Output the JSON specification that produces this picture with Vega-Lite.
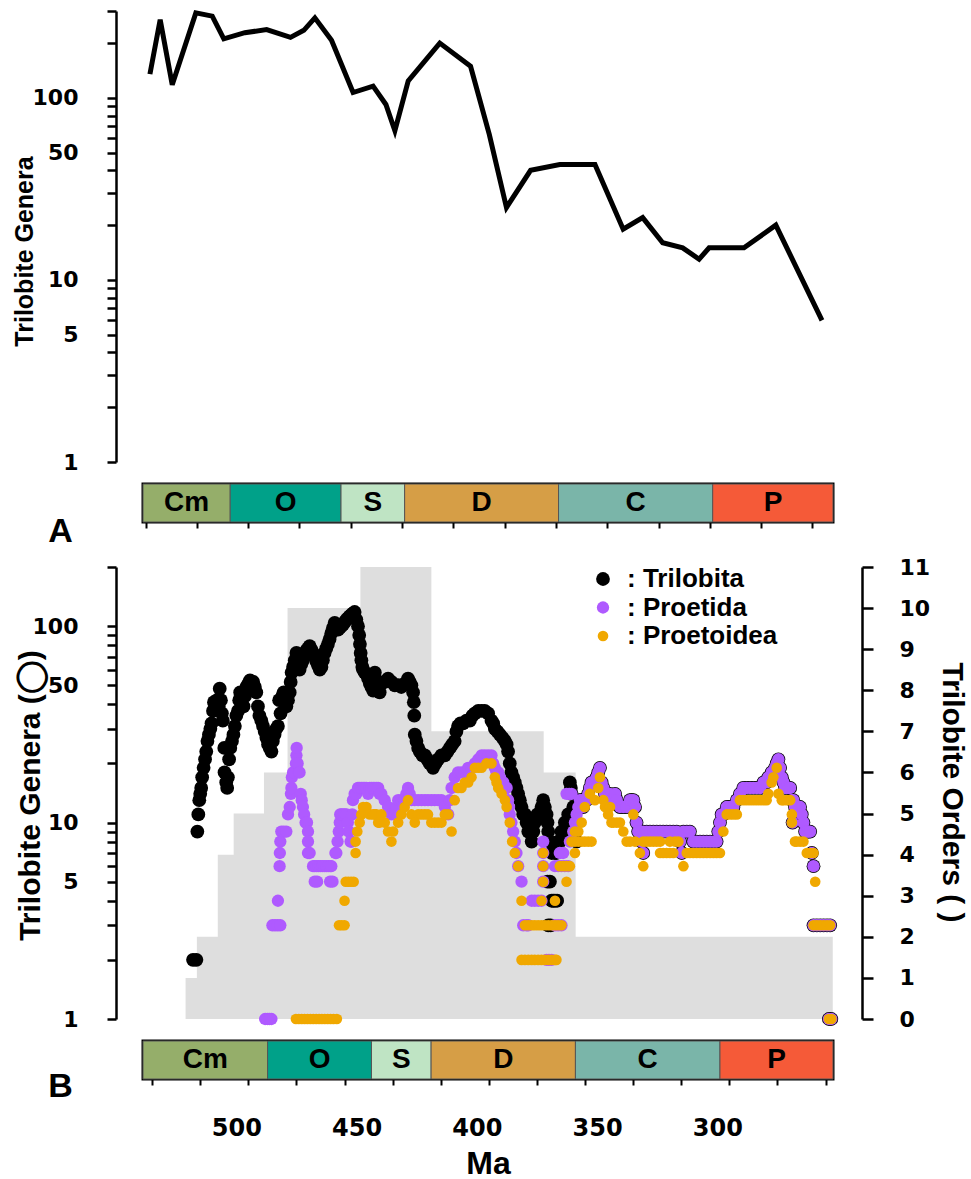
{
 "$schema": "https://vega.github.io/schema/vega-lite/v6.json",
 "padding": {"left": 12, "top": 0, "right": 2, "bottom": 0},
 "config": {"view": {"stroke": null}, "axis": {"grid": false, "domainColor": "black", "tickColor": "black", "labelColor": "black", "titleColor": "black"}},
 "spacing": 6,
 "bounds": "full",
 "resolve": {"scale": {"color": "independent", "size": "independent"}},
 "datasets": {
  "lineA": [
   {"t":518.3,"n":135},{"t":514.3,"n":269},{"t":509.6,"n":118},{"t":500.4,"n":293},{"t":494.0,"n":281},{"t":489.5,"n":211},{"t":481.3,"n":228},{"t":472.8,"n":237},{"t":463.5,"n":215},{"t":458.3,"n":235},{"t":454.0,"n":275},{"t":447.5,"n":207},{"t":439.1,"n":107},{"t":431.3,"n":116},{"t":426.3,"n":92},{"t":422.8,"n":66},{"t":417.6,"n":124},{"t":405.3,"n":200},{"t":393.3,"n":149},{"t":386.0,"n":63},{"t":379.3,"n":25},{"t":369.9,"n":40},{"t":358.5,"n":43},{"t":344.8,"n":43},{"t":333.8,"n":19},{"t":326.2,"n":22},{"t":318.4,"n":16},{"t":310.6,"n":15},{"t":304.2,"n":13},{"t":300.3,"n":15},{"t":286.7,"n":15},{"t":274.3,"n":20},{"t":256.3,"n":6}
  ],
  "periods": [
   {"p":"Cm","s":538.8,"e":487.0},{"p":"O","s":487.0,"e":443.8},{"p":"S","s":443.8,"e":419.0},{"p":"D","s":419.0,"e":359.0},{"p":"C","s":359.0,"e":298.9},{"p":"P","s":298.9,"e":251.9}
  ],
  "orders": [
   {"t":252.0,"o":1},{"t":358.9,"o":2},{"t":372.2,"o":6},{"t":418.9,"o":7},{"t":448.4,"o":11},{"t":478.7,"o":10},{"t":488.5,"o":6},{"t":501.1,"o":5},{"t":507.7,"o":4},{"t":516.4,"o":2},{"t":517.8,"o":1},{"t":521.1,"o":1}
  ],
  "genera": [
   {"g":"Trilobita","t":518.0,"n":2},{"g":"Trilobita","t":516.6,"n":2},
   {"g":"Trilobita","t":516.2,"n":9},{"g":"Trilobita","t":515.8,"n":11},{"g":"Trilobita","t":515.4,"n":13},{"g":"Trilobita","t":515.0,"n":14},{"g":"Trilobita","t":514.6,"n":15},{"g":"Trilobita","t":514.2,"n":17},{"g":"Trilobita","t":513.6,"n":19},{"g":"Trilobita","t":513.0,"n":21},{"g":"Trilobita","t":512.5,"n":23},{"g":"Trilobita","t":512.0,"n":26},{"g":"Trilobita","t":511.4,"n":28},{"g":"Trilobita","t":510.8,"n":30},{"g":"Trilobita","t":510.3,"n":32},{"g":"Trilobita","t":509.7,"n":37},{"g":"Trilobita","t":509.3,"n":41},{"g":"Trilobita","t":508.7,"n":40},{"g":"Trilobita","t":508.0,"n":42},{"g":"Trilobita","t":507.3,"n":39},{"g":"Trilobita","t":506.9,"n":48},{"g":"Trilobita","t":506.4,"n":42},{"g":"Trilobita","t":506.0,"n":36},{"g":"Trilobita","t":505.6,"n":33},{"g":"Trilobita","t":505.0,"n":24},{"g":"Trilobita","t":504.9,"n":18},{"g":"Trilobita","t":504.2,"n":16},{"g":"Trilobita","t":503.8,"n":15},{"g":"Trilobita","t":503.5,"n":17},{"g":"Trilobita","t":503.0,"n":21},{"g":"Trilobita","t":502.5,"n":24},{"g":"Trilobita","t":501.8,"n":26},{"g":"Trilobita","t":501.2,"n":28},{"g":"Trilobita","t":500.6,"n":31},{"g":"Trilobita","t":500.0,"n":35},{"g":"Trilobita","t":499.3,"n":37},{"g":"Trilobita","t":498.8,"n":42},{"g":"Trilobita","t":498.4,"n":46},{"g":"Trilobita","t":497.6,"n":43},{"g":"Trilobita","t":497.0,"n":39},{"g":"Trilobita","t":496.4,"n":44},{"g":"Trilobita","t":495.8,"n":49},{"g":"Trilobita","t":495.0,"n":51},{"g":"Trilobita","t":494.3,"n":53},{"g":"Trilobita","t":493.6,"n":51},{"g":"Trilobita","t":493.0,"n":52},{"g":"Trilobita","t":492.3,"n":49},{"g":"Trilobita","t":491.7,"n":46},{"g":"Trilobita","t":491.0,"n":39},{"g":"Trilobita","t":490.4,"n":35},{"g":"Trilobita","t":489.6,"n":33},{"g":"Trilobita","t":488.9,"n":31},{"g":"Trilobita","t":488.2,"n":29},{"g":"Trilobita","t":487.5,"n":27},{"g":"Trilobita","t":486.8,"n":25},{"g":"Trilobita","t":486.1,"n":24},{"g":"Trilobita","t":485.4,"n":23},{"g":"Trilobita","t":484.8,"n":26},{"g":"Trilobita","t":484.1,"n":28},{"g":"Trilobita","t":483.4,"n":30},{"g":"Trilobita","t":482.7,"n":31},{"g":"Trilobita","t":482.2,"n":42},{"g":"Trilobita","t":481.6,"n":36},{"g":"Trilobita","t":480.9,"n":44},{"g":"Trilobita","t":480.3,"n":46},{"g":"Trilobita","t":479.6,"n":40},{"g":"Trilobita","t":479.2,"n":39},{"g":"Trilobita","t":478.5,"n":42},{"g":"Trilobita","t":477.8,"n":46},{"g":"Trilobita","t":477.4,"n":52},{"g":"Trilobita","t":477.0,"n":58},{"g":"Trilobita","t":476.4,"n":62},{"g":"Trilobita","t":475.7,"n":67},{"g":"Trilobita","t":475.0,"n":73},{"g":"Trilobita","t":474.4,"n":68},{"g":"Trilobita","t":473.7,"n":60},{"g":"Trilobita","t":473.0,"n":64},{"g":"Trilobita","t":472.3,"n":67},{"g":"Trilobita","t":471.6,"n":71},{"g":"Trilobita","t":470.9,"n":75},{"g":"Trilobita","t":470.2,"n":77},{"g":"Trilobita","t":469.5,"n":79},{"g":"Trilobita","t":468.8,"n":76},{"g":"Trilobita","t":468.1,"n":73},{"g":"Trilobita","t":467.4,"n":70},{"g":"Trilobita","t":466.7,"n":66},{"g":"Trilobita","t":466.0,"n":63},{"g":"Trilobita","t":465.3,"n":60},{"g":"Trilobita","t":464.6,"n":62},{"g":"Trilobita","t":464.0,"n":67},{"g":"Trilobita","t":463.3,"n":73},{"g":"Trilobita","t":462.6,"n":77},{"g":"Trilobita","t":461.9,"n":81},{"g":"Trilobita","t":461.2,"n":86},{"g":"Trilobita","t":460.5,"n":92},{"g":"Trilobita","t":459.8,"n":98},{"g":"Trilobita","t":459.1,"n":104},{"g":"Trilobita","t":458.4,"n":100},{"g":"Trilobita","t":457.7,"n":96},{"g":"Trilobita","t":457.0,"n":98},{"g":"Trilobita","t":456.3,"n":100},{"g":"Trilobita","t":455.6,"n":102},{"g":"Trilobita","t":454.9,"n":105},{"g":"Trilobita","t":454.2,"n":108},{"g":"Trilobita","t":453.5,"n":110},{"g":"Trilobita","t":452.9,"n":112},{"g":"Trilobita","t":452.2,"n":114},{"g":"Trilobita","t":451.5,"n":116},{"g":"Trilobita","t":450.8,"n":118},{"g":"Trilobita","t":450.1,"n":108},{"g":"Trilobita","t":449.4,"n":100},{"g":"Trilobita","t":448.9,"n":90},{"g":"Trilobita","t":448.6,"n":81},{"g":"Trilobita","t":448.3,"n":73},{"g":"Trilobita","t":448.0,"n":67},{"g":"Trilobita","t":447.6,"n":62},{"g":"Trilobita","t":447.3,"n":60},{"g":"Trilobita","t":446.6,"n":58},{"g":"Trilobita","t":445.9,"n":57},{"g":"Trilobita","t":445.2,"n":54},{"g":"Trilobita","t":444.5,"n":51},{"g":"Trilobita","t":443.8,"n":49},{"g":"Trilobita","t":443.1,"n":47},{"g":"Trilobita","t":442.4,"n":58},{"g":"Trilobita","t":441.7,"n":53},{"g":"Trilobita","t":441.0,"n":49},{"g":"Trilobita","t":440.4,"n":46},{"g":"Trilobita","t":439.7,"n":51},{"g":"Trilobita","t":438.3,"n":52},{"g":"Trilobita","t":436.9,"n":54},{"g":"Trilobita","t":435.5,"n":52},{"g":"Trilobita","t":434.1,"n":50},{"g":"Trilobita","t":432.7,"n":50},{"g":"Trilobita","t":431.4,"n":49},{"g":"Trilobita","t":430.0,"n":51},{"g":"Trilobita","t":428.6,"n":54},{"g":"Trilobita","t":427.9,"n":52},{"g":"Trilobita","t":427.2,"n":50},{"g":"Trilobita","t":426.5,"n":46},{"g":"Trilobita","t":426.2,"n":41},{"g":"Trilobita","t":426.0,"n":35},{"g":"Trilobita","t":425.8,"n":28},{"g":"Trilobita","t":425.1,"n":26},{"g":"Trilobita","t":424.4,"n":24},{"g":"Trilobita","t":423.7,"n":23},{"g":"Trilobita","t":422.6,"n":22},{"g":"Trilobita","t":421.6,"n":22},{"g":"Trilobita","t":420.6,"n":21},{"g":"Trilobita","t":419.6,"n":20},{"g":"Trilobita","t":418.2,"n":19},{"g":"Trilobita","t":417.2,"n":20},{"g":"Trilobita","t":416.1,"n":21},{"g":"Trilobita","t":414.7,"n":22},{"g":"Trilobita","t":413.3,"n":22},{"g":"Trilobita","t":412.2,"n":23},{"g":"Trilobita","t":411.2,"n":24},{"g":"Trilobita","t":410.2,"n":25},{"g":"Trilobita","t":409.2,"n":26},{"g":"Trilobita","t":408.5,"n":29},{"g":"Trilobita","t":407.8,"n":31},{"g":"Trilobita","t":406.8,"n":32},{"g":"Trilobita","t":405.7,"n":32},{"g":"Trilobita","t":404.3,"n":33},{"g":"Trilobita","t":402.9,"n":33},{"g":"Trilobita","t":401.8,"n":35},{"g":"Trilobita","t":400.8,"n":36},{"g":"Trilobita","t":399.4,"n":37},{"g":"Trilobita","t":398.0,"n":37},{"g":"Trilobita","t":396.7,"n":37},{"g":"Trilobita","t":395.3,"n":36},{"g":"Trilobita","t":393.9,"n":33},{"g":"Trilobita","t":393.2,"n":32},{"g":"Trilobita","t":392.5,"n":30},{"g":"Trilobita","t":391.4,"n":29},{"g":"Trilobita","t":390.4,"n":28},{"g":"Trilobita","t":389.3,"n":27},{"g":"Trilobita","t":388.3,"n":26},{"g":"Trilobita","t":387.6,"n":25},{"g":"Trilobita","t":387.0,"n":23},{"g":"Trilobita","t":386.3,"n":20},{"g":"Trilobita","t":385.6,"n":18},{"g":"Trilobita","t":384.9,"n":17},{"g":"Trilobita","t":384.2,"n":16},{"g":"Trilobita","t":383.5,"n":15},{"g":"Trilobita","t":382.8,"n":14},{"g":"Trilobita","t":382.1,"n":13},{"g":"Trilobita","t":381.4,"n":12},{"g":"Trilobita","t":380.7,"n":11},{"g":"Trilobita","t":380.0,"n":11},{"g":"Trilobita","t":379.3,"n":10},{"g":"Trilobita","t":378.6,"n":9},{"g":"Trilobita","t":377.9,"n":9},{"g":"Trilobita","t":377.2,"n":8},{"g":"Trilobita","t":376.5,"n":9},{"g":"Trilobita","t":375.9,"n":10},{"g":"Trilobita","t":374.8,"n":11},{"g":"Trilobita","t":373.8,"n":11},{"g":"Trilobita","t":373.1,"n":12},{"g":"Trilobita","t":372.4,"n":13},{"g":"Trilobita","t":371.7,"n":12},{"g":"Trilobita","t":371.0,"n":11},{"g":"Trilobita","t":370.6,"n":10},{"g":"Trilobita","t":370.3,"n":9},{"g":"Trilobita","t":369.6,"n":8},{"g":"Trilobita","t":368.9,"n":7},{"g":"Trilobita","t":370.6,"n":5},{"g":"Trilobita","t":369.6,"n":5},{"g":"Trilobita","t":368.9,"n":4},{"g":"Trilobita","t":368.2,"n":4},{"g":"Trilobita","t":367.5,"n":4},{"g":"Trilobita","t":366.6,"n":4},{"g":"Trilobita","t":370.3,"n":3},{"g":"Trilobita","t":369.3,"n":3},{"g":"Trilobita","t":367.5,"n":7},{"g":"Trilobita","t":366.9,"n":7},{"g":"Trilobita","t":366.2,"n":8},{"g":"Trilobita","t":365.5,"n":8},{"g":"Trilobita","t":364.8,"n":9},{"g":"Trilobita","t":364.1,"n":9},{"g":"Trilobita","t":363.4,"n":10},{"g":"Trilobita","t":362.7,"n":10},{"g":"Trilobita","t":362.0,"n":11},{"g":"Trilobita","t":361.3,"n":16},{"g":"Trilobita","t":360.9,"n":15},{"g":"Trilobita","t":360.6,"n":14},{"g":"Trilobita","t":359.9,"n":12},{"g":"Trilobita","t":359.2,"n":10},{"g":"Trilobita","t":358.5,"n":8},
   {"g":"Trilobita","t":357.8,"n":12},{"g":"Trilobita","t":357.1,"n":13},{"g":"Trilobita","t":356.4,"n":13},{"g":"Trilobita","t":355.8,"n":12},{"g":"Trilobita","t":355.1,"n":13},{"g":"Trilobita","t":354.4,"n":13},{"g":"Trilobita","t":353.7,"n":14},{"g":"Trilobita","t":353.0,"n":15},{"g":"Trilobita","t":352.3,"n":16},{"g":"Trilobita","t":351.6,"n":16},{"g":"Trilobita","t":350.9,"n":16},{"g":"Trilobita","t":350.2,"n":17},{"g":"Trilobita","t":349.5,"n":18},{"g":"Trilobita","t":348.8,"n":19},{"g":"Trilobita","t":348.1,"n":16},{"g":"Trilobita","t":347.4,"n":15},{"g":"Trilobita","t":346.7,"n":14},{"g":"Trilobita","t":346.0,"n":14},{"g":"Trilobita","t":345.4,"n":14},{"g":"Trilobita","t":344.7,"n":14},{"g":"Trilobita","t":344.0,"n":13},{"g":"Trilobita","t":343.2,"n":13},{"g":"Trilobita","t":342.5,"n":14},{"g":"Trilobita","t":341.8,"n":13},{"g":"Trilobita","t":340.5,"n":12},{"g":"Trilobita","t":339.1,"n":12},{"g":"Trilobita","t":337.7,"n":12},{"g":"Trilobita","t":336.3,"n":13},{"g":"Trilobita","t":335.6,"n":13},{"g":"Trilobita","t":334.9,"n":13},{"g":"Trilobita","t":334.2,"n":12},{"g":"Trilobita","t":333.6,"n":10},{"g":"Trilobita","t":332.9,"n":9},{"g":"Trilobita","t":332.2,"n":9},{"g":"Trilobita","t":331.5,"n":8},{"g":"Trilobita","t":330.8,"n":7},{"g":"Trilobita","t":330.8,"n":9},{"g":"Trilobita","t":329.4,"n":9},{"g":"Trilobita","t":328.0,"n":9},{"g":"Trilobita","t":326.6,"n":9},{"g":"Trilobita","t":325.2,"n":9},{"g":"Trilobita","t":323.8,"n":9},{"g":"Trilobita","t":322.5,"n":9},{"g":"Trilobita","t":321.1,"n":9},{"g":"Trilobita","t":319.7,"n":9},{"g":"Trilobita","t":318.3,"n":9},{"g":"Trilobita","t":316.9,"n":9},{"g":"Trilobita","t":315.5,"n":8},{"g":"Trilobita","t":314.8,"n":7},{"g":"Trilobita","t":314.1,"n":9},{"g":"Trilobita","t":312.7,"n":9},{"g":"Trilobita","t":311.4,"n":9},{"g":"Trilobita","t":310.0,"n":8},{"g":"Trilobita","t":308.6,"n":8},{"g":"Trilobita","t":307.2,"n":8},{"g":"Trilobita","t":305.8,"n":8},{"g":"Trilobita","t":304.4,"n":8},{"g":"Trilobita","t":303.0,"n":8},{"g":"Trilobita","t":301.6,"n":8},{"g":"Trilobita","t":300.3,"n":8},{"g":"Trilobita","t":299.6,"n":9},{"g":"Trilobita","t":298.9,"n":10},{"g":"Trilobita","t":298.2,"n":11},{"g":"Trilobita","t":297.5,"n":11},{"g":"Trilobita","t":296.1,"n":12},{"g":"Trilobita","t":294.7,"n":12},{"g":"Trilobita","t":293.3,"n":12},{"g":"Trilobita","t":291.9,"n":13},{"g":"Trilobita","t":290.6,"n":14},{"g":"Trilobita","t":289.2,"n":15},{"g":"Trilobita","t":287.8,"n":15},{"g":"Trilobita","t":286.4,"n":15},{"g":"Trilobita","t":285.0,"n":15},{"g":"Trilobita","t":283.6,"n":15},{"g":"Trilobita","t":282.2,"n":15},{"g":"Trilobita","t":280.8,"n":16},{"g":"Trilobita","t":279.5,"n":16},{"g":"Trilobita","t":278.8,"n":17},{"g":"Trilobita","t":278.1,"n":17},{"g":"Trilobita","t":277.4,"n":18},{"g":"Trilobita","t":276.7,"n":18},{"g":"Trilobita","t":276.0,"n":19},{"g":"Trilobita","t":275.3,"n":20},{"g":"Trilobita","t":274.6,"n":21},{"g":"Trilobita","t":273.9,"n":19},{"g":"Trilobita","t":273.2,"n":17},{"g":"Trilobita","t":272.5,"n":16},{"g":"Trilobita","t":271.8,"n":15},{"g":"Trilobita","t":271.1,"n":15},{"g":"Trilobita","t":270.4,"n":15},{"g":"Trilobita","t":269.7,"n":15},{"g":"Trilobita","t":269.0,"n":13},{"g":"Trilobita","t":268.7,"n":10},{"g":"Trilobita","t":268.4,"n":13},{"g":"Trilobita","t":267.7,"n":12},{"g":"Trilobita","t":267.0,"n":12},{"g":"Trilobita","t":266.3,"n":12},{"g":"Trilobita","t":265.6,"n":12},{"g":"Trilobita","t":264.9,"n":11},{"g":"Trilobita","t":264.2,"n":10},{"g":"Trilobita","t":263.5,"n":9},{"g":"Trilobita","t":262.8,"n":9},{"g":"Trilobita","t":262.1,"n":9},{"g":"Trilobita","t":261.4,"n":9},{"g":"Trilobita","t":260.7,"n":7},{"g":"Trilobita","t":260.0,"n":6},{"g":"Trilobita","t":260.0,"n":3},{"g":"Trilobita","t":258.6,"n":3},{"g":"Trilobita","t":257.2,"n":3},{"g":"Trilobita","t":255.8,"n":3},{"g":"Trilobita","t":254.4,"n":3},{"g":"Trilobita","t":253.1,"n":3},{"g":"Trilobita","t":253.6,"n":1},{"g":"Trilobita","t":252.6,"n":1},
   {"g":"Proetida","t":488.0,"n":1},{"g":"Proetida","t":487.0,"n":1},{"g":"Proetida","t":486.2,"n":1},{"g":"Proetida","t":485.4,"n":1},
   {"g":"Proetida","t":485.0,"n":3},{"g":"Proetida","t":483.9,"n":3},{"g":"Proetida","t":482.8,"n":3},{"g":"Proetida","t":481.7,"n":3},
   {"g":"Proetida","t":482.7,"n":4},{"g":"Proetida","t":482.0,"n":6},{"g":"Proetida","t":481.9,"n":7},{"g":"Proetida","t":481.7,"n":8},{"g":"Proetida","t":481.3,"n":9},{"g":"Proetida","t":480.3,"n":9},{"g":"Proetida","t":479.2,"n":9},{"g":"Proetida","t":478.5,"n":11},{"g":"Proetida","t":477.8,"n":12},{"g":"Proetida","t":477.3,"n":14},{"g":"Proetida","t":477.1,"n":15},{"g":"Proetida","t":476.9,"n":17},{"g":"Proetida","t":476.4,"n":18},{"g":"Proetida","t":475.7,"n":18},{"g":"Proetida","t":475.2,"n":20},{"g":"Proetida","t":475.0,"n":22},{"g":"Proetida","t":474.9,"n":24},{"g":"Proetida","t":474.5,"n":20},{"g":"Proetida","t":474.0,"n":18},{"g":"Proetida","t":473.7,"n":18},{"g":"Proetida","t":473.2,"n":14},{"g":"Proetida","t":472.8,"n":13},{"g":"Proetida","t":472.3,"n":12},{"g":"Proetida","t":471.8,"n":11},{"g":"Proetida","t":471.2,"n":10},{"g":"Proetida","t":470.6,"n":10},{"g":"Proetida","t":470.2,"n":9},{"g":"Proetida","t":470.2,"n":8},{"g":"Proetida","t":470.2,"n":7},{"g":"Proetida","t":469.5,"n":7},
   {"g":"Proetida","t":468.1,"n":6},{"g":"Proetida","t":467.4,"n":6},{"g":"Proetida","t":466.6,"n":6},{"g":"Proetida","t":465.8,"n":6},{"g":"Proetida","t":465.0,"n":6},{"g":"Proetida","t":464.2,"n":6},{"g":"Proetida","t":463.4,"n":6},{"g":"Proetida","t":462.6,"n":6},{"g":"Proetida","t":461.8,"n":6},{"g":"Proetida","t":461.0,"n":6},{"g":"Proetida","t":460.5,"n":6},{"g":"Proetida","t":467.4,"n":5},{"g":"Proetida","t":466.4,"n":5},{"g":"Proetida","t":461.0,"n":5},{"g":"Proetida","t":460.0,"n":5},
   {"g":"Proetida","t":458.8,"n":7},{"g":"Proetida","t":458.4,"n":7},{"g":"Proetida","t":457.9,"n":8},{"g":"Proetida","t":457.4,"n":9},{"g":"Proetida","t":457.0,"n":10},{"g":"Proetida","t":456.8,"n":11},{"g":"Proetida","t":456.3,"n":11},{"g":"Proetida","t":455.6,"n":11},{"g":"Proetida","t":454.9,"n":11},{"g":"Proetida","t":454.2,"n":11},{"g":"Proetida","t":453.6,"n":10},{"g":"Proetida","t":453.2,"n":9},{"g":"Proetida","t":452.5,"n":8},{"g":"Proetida","t":452.1,"n":8},{"g":"Proetida","t":451.8,"n":11},{"g":"Proetida","t":451.5,"n":13},{"g":"Proetida","t":450.8,"n":14},{"g":"Proetida","t":450.1,"n":14},{"g":"Proetida","t":449.4,"n":15},{"g":"Proetida","t":448.7,"n":15},{"g":"Proetida","t":448.0,"n":15},{"g":"Proetida","t":447.3,"n":15},{"g":"Proetida","t":446.6,"n":15},{"g":"Proetida","t":445.9,"n":15},{"g":"Proetida","t":445.2,"n":14},{"g":"Proetida","t":444.5,"n":15},{"g":"Proetida","t":443.8,"n":15},{"g":"Proetida","t":443.1,"n":15},{"g":"Proetida","t":442.4,"n":15},{"g":"Proetida","t":441.7,"n":15},{"g":"Proetida","t":441.0,"n":15},{"g":"Proetida","t":440.4,"n":14},{"g":"Proetida","t":439.7,"n":14},{"g":"Proetida","t":438.3,"n":13},{"g":"Proetida","t":436.9,"n":12},{"g":"Proetida","t":435.5,"n":11},{"g":"Proetida","t":434.1,"n":11},{"g":"Proetida","t":433.4,"n":12},{"g":"Proetida","t":432.7,"n":13},{"g":"Proetida","t":431.4,"n":13},{"g":"Proetida","t":430.0,"n":13},{"g":"Proetida","t":429.3,"n":14},{"g":"Proetida","t":428.6,"n":15},{"g":"Proetida","t":427.9,"n":14},{"g":"Proetida","t":427.2,"n":13},{"g":"Proetida","t":425.8,"n":13},{"g":"Proetida","t":424.4,"n":13},{"g":"Proetida","t":423.0,"n":13},{"g":"Proetida","t":421.6,"n":13},{"g":"Proetida","t":420.3,"n":13},{"g":"Proetida","t":418.9,"n":13},{"g":"Proetida","t":417.5,"n":13},{"g":"Proetida","t":416.1,"n":13},{"g":"Proetida","t":414.7,"n":13},{"g":"Proetida","t":413.3,"n":12},{"g":"Proetida","t":411.9,"n":11},{"g":"Proetida","t":411.2,"n":13},{"g":"Proetida","t":410.5,"n":15},{"g":"Proetida","t":409.2,"n":17},{"g":"Proetida","t":407.8,"n":18},{"g":"Proetida","t":406.4,"n":18},{"g":"Proetida","t":405.0,"n":18},{"g":"Proetida","t":403.6,"n":19},{"g":"Proetida","t":402.2,"n":19},{"g":"Proetida","t":400.8,"n":20},{"g":"Proetida","t":399.4,"n":21},{"g":"Proetida","t":398.0,"n":22},{"g":"Proetida","t":396.7,"n":22},{"g":"Proetida","t":395.3,"n":22},{"g":"Proetida","t":393.9,"n":22},{"g":"Proetida","t":393.2,"n":20},{"g":"Proetida","t":392.5,"n":19},{"g":"Proetida","t":391.8,"n":18},{"g":"Proetida","t":391.1,"n":18},{"g":"Proetida","t":390.4,"n":17},{"g":"Proetida","t":389.0,"n":16},{"g":"Proetida","t":387.6,"n":15},{"g":"Proetida","t":387.0,"n":13},{"g":"Proetida","t":386.6,"n":12},{"g":"Proetida","t":386.3,"n":11},{"g":"Proetida","t":385.6,"n":10},{"g":"Proetida","t":384.9,"n":9},{"g":"Proetida","t":384.2,"n":8},{"g":"Proetida","t":383.5,"n":7},{"g":"Proetida","t":382.8,"n":6},{"g":"Proetida","t":381.4,"n":5},{"g":"Proetida","t":380.7,"n":3},{"g":"Proetida","t":379.3,"n":3},{"g":"Proetida","t":378.6,"n":3},{"g":"Proetida","t":377.2,"n":4},{"g":"Proetida","t":375.9,"n":4},{"g":"Proetida","t":374.5,"n":4},{"g":"Proetida","t":373.1,"n":4},{"g":"Proetida","t":372.4,"n":5},{"g":"Proetida","t":372.4,"n":6},{"g":"Proetida","t":372.4,"n":7},{"g":"Proetida","t":372.4,"n":8},{"g":"Proetida","t":371.0,"n":2},{"g":"Proetida","t":370.0,"n":2},{"g":"Proetida","t":368.9,"n":2},{"g":"Proetida","t":367.5,"n":3},{"g":"Proetida","t":366.2,"n":3},{"g":"Proetida","t":364.8,"n":3},{"g":"Proetida","t":367.5,"n":6},{"g":"Proetida","t":366.2,"n":6},{"g":"Proetida","t":364.8,"n":6},{"g":"Proetida","t":363.4,"n":6},{"g":"Proetida","t":362.0,"n":6},{"g":"Proetida","t":365.5,"n":7},{"g":"Proetida","t":364.1,"n":7},{"g":"Proetida","t":361.3,"n":8},{"g":"Proetida","t":362.7,"n":14},{"g":"Proetida","t":361.6,"n":14},{"g":"Proetida","t":360.6,"n":14},{"g":"Proetida","t":359.9,"n":9},{"g":"Proetida","t":359.2,"n":10},{"g":"Proetida","t":358.5,"n":11},
   {"g":"Proetida","t":357.8,"n":12},{"g":"Proetida","t":357.1,"n":13},{"g":"Proetida","t":356.4,"n":13},{"g":"Proetida","t":355.8,"n":12},{"g":"Proetida","t":355.1,"n":13},{"g":"Proetida","t":354.4,"n":13},{"g":"Proetida","t":353.7,"n":14},{"g":"Proetida","t":353.0,"n":15},{"g":"Proetida","t":352.3,"n":16},{"g":"Proetida","t":351.6,"n":16},{"g":"Proetida","t":350.9,"n":16},{"g":"Proetida","t":350.2,"n":17},{"g":"Proetida","t":349.5,"n":18},{"g":"Proetida","t":348.8,"n":19},{"g":"Proetida","t":348.1,"n":16},{"g":"Proetida","t":347.4,"n":15},{"g":"Proetida","t":346.7,"n":14},{"g":"Proetida","t":346.0,"n":14},{"g":"Proetida","t":345.4,"n":14},{"g":"Proetida","t":344.7,"n":14},{"g":"Proetida","t":344.0,"n":13},{"g":"Proetida","t":343.2,"n":13},{"g":"Proetida","t":342.5,"n":14},{"g":"Proetida","t":341.8,"n":13},{"g":"Proetida","t":340.5,"n":12},{"g":"Proetida","t":339.1,"n":12},{"g":"Proetida","t":337.7,"n":12},{"g":"Proetida","t":336.3,"n":13},{"g":"Proetida","t":335.6,"n":13},{"g":"Proetida","t":334.9,"n":13},{"g":"Proetida","t":334.2,"n":12},{"g":"Proetida","t":333.6,"n":10},{"g":"Proetida","t":332.9,"n":9},{"g":"Proetida","t":332.2,"n":9},{"g":"Proetida","t":331.5,"n":8},{"g":"Proetida","t":330.8,"n":7},{"g":"Proetida","t":330.8,"n":9},{"g":"Proetida","t":329.4,"n":9},{"g":"Proetida","t":328.0,"n":9},{"g":"Proetida","t":326.6,"n":9},{"g":"Proetida","t":325.2,"n":9},{"g":"Proetida","t":323.8,"n":9},{"g":"Proetida","t":322.5,"n":9},{"g":"Proetida","t":321.1,"n":9},{"g":"Proetida","t":319.7,"n":9},{"g":"Proetida","t":318.3,"n":9},{"g":"Proetida","t":316.9,"n":9},{"g":"Proetida","t":315.5,"n":8},{"g":"Proetida","t":314.8,"n":7},{"g":"Proetida","t":314.1,"n":9},{"g":"Proetida","t":312.7,"n":9},{"g":"Proetida","t":311.4,"n":9},{"g":"Proetida","t":310.0,"n":8},{"g":"Proetida","t":308.6,"n":8},{"g":"Proetida","t":307.2,"n":8},{"g":"Proetida","t":305.8,"n":8},{"g":"Proetida","t":304.4,"n":8},{"g":"Proetida","t":303.0,"n":8},{"g":"Proetida","t":301.6,"n":8},{"g":"Proetida","t":300.3,"n":8},{"g":"Proetida","t":299.6,"n":9},{"g":"Proetida","t":298.9,"n":10},{"g":"Proetida","t":298.2,"n":11},{"g":"Proetida","t":297.5,"n":11},{"g":"Proetida","t":296.1,"n":12},{"g":"Proetida","t":294.7,"n":12},{"g":"Proetida","t":293.3,"n":12},{"g":"Proetida","t":291.9,"n":13},{"g":"Proetida","t":290.6,"n":14},{"g":"Proetida","t":289.2,"n":15},{"g":"Proetida","t":287.8,"n":15},{"g":"Proetida","t":286.4,"n":15},{"g":"Proetida","t":285.0,"n":15},{"g":"Proetida","t":283.6,"n":15},{"g":"Proetida","t":282.2,"n":15},{"g":"Proetida","t":280.8,"n":16},{"g":"Proetida","t":279.5,"n":16},{"g":"Proetida","t":278.8,"n":17},{"g":"Proetida","t":278.1,"n":17},{"g":"Proetida","t":277.4,"n":18},{"g":"Proetida","t":276.7,"n":18},{"g":"Proetida","t":276.0,"n":19},{"g":"Proetida","t":275.3,"n":20},{"g":"Proetida","t":274.6,"n":21},{"g":"Proetida","t":273.9,"n":19},{"g":"Proetida","t":273.2,"n":17},{"g":"Proetida","t":272.5,"n":16},{"g":"Proetida","t":271.8,"n":15},{"g":"Proetida","t":271.1,"n":15},{"g":"Proetida","t":270.4,"n":15},{"g":"Proetida","t":269.7,"n":15},{"g":"Proetida","t":269.0,"n":13},{"g":"Proetida","t":268.7,"n":10},{"g":"Proetida","t":268.4,"n":13},{"g":"Proetida","t":267.7,"n":12},{"g":"Proetida","t":267.0,"n":12},{"g":"Proetida","t":266.3,"n":12},{"g":"Proetida","t":265.6,"n":12},{"g":"Proetida","t":264.9,"n":11},{"g":"Proetida","t":264.2,"n":10},{"g":"Proetida","t":263.5,"n":9},{"g":"Proetida","t":262.8,"n":9},{"g":"Proetida","t":262.1,"n":9},{"g":"Proetida","t":261.4,"n":9},{"g":"Proetida","t":260.7,"n":7},{"g":"Proetida","t":260.0,"n":6},{"g":"Proetida","t":260.0,"n":3},{"g":"Proetida","t":258.6,"n":3},{"g":"Proetida","t":257.2,"n":3},{"g":"Proetida","t":255.8,"n":3},{"g":"Proetida","t":254.4,"n":3},{"g":"Proetida","t":253.1,"n":3},{"g":"Proetida","t":253.6,"n":1},{"g":"Proetida","t":252.6,"n":1},
   {"g":"Proetoidea","t":475.2,"n":1},{"g":"Proetoidea","t":474.0,"n":1},{"g":"Proetoidea","t":472.8,"n":1},{"g":"Proetoidea","t":471.6,"n":1},{"g":"Proetoidea","t":470.4,"n":1},{"g":"Proetoidea","t":469.2,"n":1},{"g":"Proetoidea","t":468.0,"n":1},{"g":"Proetoidea","t":466.8,"n":1},{"g":"Proetoidea","t":465.6,"n":1},{"g":"Proetoidea","t":464.4,"n":1},{"g":"Proetoidea","t":463.2,"n":1},{"g":"Proetoidea","t":462.0,"n":1},{"g":"Proetoidea","t":460.8,"n":1},{"g":"Proetoidea","t":459.6,"n":1},{"g":"Proetoidea","t":458.2,"n":1},
   {"g":"Proetoidea","t":457.3,"n":3},{"g":"Proetoidea","t":456.2,"n":3},{"g":"Proetoidea","t":455.0,"n":3},{"g":"Proetoidea","t":455.0,"n":4},{"g":"Proetoidea","t":454.5,"n":5},{"g":"Proetoidea","t":453.4,"n":5},{"g":"Proetoidea","t":452.3,"n":5},{"g":"Proetoidea","t":451.2,"n":5},
   {"g":"Proetoidea","t":450.4,"n":7},{"g":"Proetoidea","t":450.4,"n":8},{"g":"Proetoidea","t":449.7,"n":9},{"g":"Proetoidea","t":448.7,"n":10},{"g":"Proetoidea","t":448.0,"n":11},{"g":"Proetoidea","t":447.3,"n":12},{"g":"Proetoidea","t":445.9,"n":12},{"g":"Proetoidea","t":444.5,"n":11},{"g":"Proetoidea","t":443.1,"n":11},{"g":"Proetoidea","t":441.7,"n":11},{"g":"Proetoidea","t":440.4,"n":10},
   {"g":"Proetoidea","t":442.4,"n":11},{"g":"Proetoidea","t":441.0,"n":10},{"g":"Proetoidea","t":439.7,"n":11},{"g":"Proetoidea","t":438.3,"n":10},{"g":"Proetoidea","t":436.9,"n":9},{"g":"Proetoidea","t":435.5,"n":8},{"g":"Proetoidea","t":434.8,"n":9},{"g":"Proetoidea","t":432.7,"n":10},{"g":"Proetoidea","t":431.4,"n":11},{"g":"Proetoidea","t":430.0,"n":12},{"g":"Proetoidea","t":428.6,"n":13},{"g":"Proetoidea","t":427.2,"n":11},{"g":"Proetoidea","t":425.8,"n":10},{"g":"Proetoidea","t":424.4,"n":11},{"g":"Proetoidea","t":423.0,"n":11},{"g":"Proetoidea","t":421.6,"n":11},{"g":"Proetoidea","t":420.3,"n":11},{"g":"Proetoidea","t":418.9,"n":10},{"g":"Proetoidea","t":417.5,"n":10},{"g":"Proetoidea","t":416.1,"n":10},{"g":"Proetoidea","t":414.7,"n":10},{"g":"Proetoidea","t":413.3,"n":11},{"g":"Proetoidea","t":411.9,"n":11},{"g":"Proetoidea","t":410.5,"n":9},{"g":"Proetoidea","t":409.2,"n":13},{"g":"Proetoidea","t":407.8,"n":15},{"g":"Proetoidea","t":406.4,"n":15},{"g":"Proetoidea","t":405.0,"n":16},{"g":"Proetoidea","t":403.6,"n":16},{"g":"Proetoidea","t":402.2,"n":17},{"g":"Proetoidea","t":400.8,"n":19},{"g":"Proetoidea","t":399.4,"n":19},{"g":"Proetoidea","t":398.0,"n":19},{"g":"Proetoidea","t":396.0,"n":20},{"g":"Proetoidea","t":393.9,"n":20},{"g":"Proetoidea","t":392.5,"n":17},{"g":"Proetoidea","t":391.8,"n":16},{"g":"Proetoidea","t":391.1,"n":15},{"g":"Proetoidea","t":389.7,"n":14},{"g":"Proetoidea","t":388.3,"n":13},{"g":"Proetoidea","t":387.6,"n":12},{"g":"Proetoidea","t":386.3,"n":10},{"g":"Proetoidea","t":385.3,"n":8},{"g":"Proetoidea","t":384.2,"n":7},{"g":"Proetoidea","t":382.8,"n":6},{"g":"Proetoidea","t":381.4,"n":4},
   {"g":"Proetoidea","t":380.0,"n":3},{"g":"Proetoidea","t":378.6,"n":3},{"g":"Proetoidea","t":377.2,"n":3},{"g":"Proetoidea","t":375.9,"n":3},{"g":"Proetoidea","t":374.5,"n":3},{"g":"Proetoidea","t":373.1,"n":3},{"g":"Proetoidea","t":371.7,"n":3},{"g":"Proetoidea","t":370.3,"n":3},{"g":"Proetoidea","t":368.9,"n":3},{"g":"Proetoidea","t":367.5,"n":3},{"g":"Proetoidea","t":366.2,"n":3},{"g":"Proetoidea","t":364.8,"n":3},
   {"g":"Proetoidea","t":381.4,"n":2},{"g":"Proetoidea","t":380.0,"n":2},{"g":"Proetoidea","t":378.6,"n":2},{"g":"Proetoidea","t":377.2,"n":2},{"g":"Proetoidea","t":375.9,"n":2},{"g":"Proetoidea","t":374.5,"n":2},{"g":"Proetoidea","t":373.1,"n":2},{"g":"Proetoidea","t":371.7,"n":2},{"g":"Proetoidea","t":370.3,"n":2},{"g":"Proetoidea","t":368.9,"n":2},{"g":"Proetoidea","t":367.5,"n":2},{"g":"Proetoidea","t":366.9,"n":2},
   {"g":"Proetoidea","t":373.1,"n":4},{"g":"Proetoidea","t":367.5,"n":4},{"g":"Proetoidea","t":372.4,"n":5},{"g":"Proetoidea","t":372.4,"n":6},{"g":"Proetoidea","t":372.4,"n":7},{"g":"Proetoidea","t":365.5,"n":6},{"g":"Proetoidea","t":364.1,"n":6},{"g":"Proetoidea","t":362.7,"n":6},{"g":"Proetoidea","t":361.3,"n":6},{"g":"Proetoidea","t":362.7,"n":5},{"g":"Proetoidea","t":359.2,"n":7},
   {"g":"Proetoidea","t":360.6,"n":8},{"g":"Proetoidea","t":359.2,"n":8},{"g":"Proetoidea","t":357.8,"n":8},{"g":"Proetoidea","t":356.4,"n":8},{"g":"Proetoidea","t":355.1,"n":8},{"g":"Proetoidea","t":353.7,"n":8},{"g":"Proetoidea","t":352.3,"n":8},{"g":"Proetoidea","t":359.2,"n":9},{"g":"Proetoidea","t":357.8,"n":9},{"g":"Proetoidea","t":356.4,"n":10},{"g":"Proetoidea","t":355.1,"n":12},{"g":"Proetoidea","t":353.0,"n":14},{"g":"Proetoidea","t":350.9,"n":13},{"g":"Proetoidea","t":349.5,"n":15},{"g":"Proetoidea","t":348.8,"n":17},{"g":"Proetoidea","t":347.4,"n":13},{"g":"Proetoidea","t":346.7,"n":12},{"g":"Proetoidea","t":345.4,"n":11},{"g":"Proetoidea","t":344.0,"n":10},
   {"g":"Proetoidea","t":344.6,"n":12},{"g":"Proetoidea","t":343.2,"n":10},{"g":"Proetoidea","t":341.8,"n":10},{"g":"Proetoidea","t":340.5,"n":10},{"g":"Proetoidea","t":339.1,"n":9},{"g":"Proetoidea","t":337.7,"n":8},{"g":"Proetoidea","t":336.3,"n":8},{"g":"Proetoidea","t":334.9,"n":11},{"g":"Proetoidea","t":334.2,"n":8},{"g":"Proetoidea","t":332.2,"n":7},{"g":"Proetoidea","t":330.8,"n":6},{"g":"Proetoidea","t":330.8,"n":8},{"g":"Proetoidea","t":329.4,"n":8},{"g":"Proetoidea","t":328.0,"n":8},{"g":"Proetoidea","t":326.6,"n":8},{"g":"Proetoidea","t":325.2,"n":8},{"g":"Proetoidea","t":323.8,"n":8},{"g":"Proetoidea","t":323.8,"n":7},{"g":"Proetoidea","t":322.5,"n":7},{"g":"Proetoidea","t":321.1,"n":7},{"g":"Proetoidea","t":319.7,"n":7},{"g":"Proetoidea","t":318.3,"n":7},{"g":"Proetoidea","t":319.7,"n":8},{"g":"Proetoidea","t":317.6,"n":8},{"g":"Proetoidea","t":316.2,"n":8},{"g":"Proetoidea","t":314.1,"n":6},{"g":"Proetoidea","t":312.7,"n":7},{"g":"Proetoidea","t":311.4,"n":7},{"g":"Proetoidea","t":310.0,"n":7},{"g":"Proetoidea","t":308.6,"n":7},{"g":"Proetoidea","t":307.2,"n":7},{"g":"Proetoidea","t":305.8,"n":7},{"g":"Proetoidea","t":304.4,"n":7},{"g":"Proetoidea","t":303.0,"n":7},{"g":"Proetoidea","t":301.6,"n":7},{"g":"Proetoidea","t":300.3,"n":7},{"g":"Proetoidea","t":298.9,"n":7},{"g":"Proetoidea","t":297.5,"n":9},{"g":"Proetoidea","t":296.1,"n":11},{"g":"Proetoidea","t":294.7,"n":11},{"g":"Proetoidea","t":293.3,"n":11},{"g":"Proetoidea","t":291.9,"n":11},{"g":"Proetoidea","t":290.6,"n":13},{"g":"Proetoidea","t":289.2,"n":13},{"g":"Proetoidea","t":287.8,"n":13},{"g":"Proetoidea","t":286.4,"n":13},{"g":"Proetoidea","t":285.0,"n":13},{"g":"Proetoidea","t":283.6,"n":13},{"g":"Proetoidea","t":282.2,"n":13},{"g":"Proetoidea","t":280.8,"n":13},{"g":"Proetoidea","t":279.5,"n":13},{"g":"Proetoidea","t":278.8,"n":14},{"g":"Proetoidea","t":277.4,"n":16},{"g":"Proetoidea","t":276.7,"n":17},{"g":"Proetoidea","t":275.3,"n":19},{"g":"Proetoidea","t":274.6,"n":14},{"g":"Proetoidea","t":273.2,"n":13},{"g":"Proetoidea","t":272.5,"n":13},{"g":"Proetoidea","t":271.1,"n":13},{"g":"Proetoidea","t":269.7,"n":13},{"g":"Proetoidea","t":269.0,"n":11},{"g":"Proetoidea","t":269.0,"n":10},{"g":"Proetoidea","t":267.7,"n":8},{"g":"Proetoidea","t":267.0,"n":8},{"g":"Proetoidea","t":265.6,"n":8},{"g":"Proetoidea","t":264.2,"n":8},{"g":"Proetoidea","t":262.8,"n":7},{"g":"Proetoidea","t":261.4,"n":7},{"g":"Proetoidea","t":260.0,"n":7},{"g":"Proetoidea","t":259.3,"n":5},{"g":"Proetoidea","t":260.0,"n":3},{"g":"Proetoidea","t":258.6,"n":3},{"g":"Proetoidea","t":257.2,"n":3},{"g":"Proetoidea","t":255.8,"n":3},{"g":"Proetoidea","t":254.4,"n":3},{"g":"Proetoidea","t":253.1,"n":3},{"g":"Proetoidea","t":253.6,"n":1},{"g":"Proetoidea","t":252.6,"n":1}
  ]
 },
 "vconcat": [
  {
   "spacing": 22,
   "bounds": "flush",
   "resolve": {"scale": {"color": "independent", "size": "independent"}},
   "vconcat": [
    {
     "width": 690, "height": 451,
     "data": {"name": "lineA"},
     "mark": {"type": "line", "color": "black", "strokeWidth": 5, "strokeJoin": "miter"},
     "encoding": {
      "x": {"field": "t", "type": "quantitative", "scale": {"domain": [521, 252], "nice": false, "zero": false}, "axis": null},
      "y": {"field": "n", "type": "quantitative", "scale": {"type": "log", "domain": [1, 300], "nice": false},
       "axis": {"orient": "left", "offset": 27, "values": [1,2,3,4,5,6,7,8,9,10,20,30,40,50,60,70,80,90,100,200,300],
        "labelExpr": "indexof([1,5,10,50,100], datum.value) >= 0 ? '' + datum.value : ''",
        "tickSize": 9, "labelPadding": 29, "domainWidth": 2.5, "tickWidth": 2.5, "labelOverlap": false,
        "labelFont": "DejaVu Sans", "labelFontWeight": "bold", "labelFontSize": 22,
        "title": "Trilobite Genera", "titleFont": "Liberation Sans", "titleFontWeight": "bold", "titleFontSize": 25,
        "titleX": -92, "titleY": 240, "titleAngle": 270, "titleAlign": "center", "titleBaseline": "middle"}}
     }
    },
    {
     "width": 690, "height": 38,
     "view": {"stroke": "black", "strokeWidth": 3},
     "data": {"name": "periods"},
     "transform": [{"calculate": "(min(datum.s, 521) + datum.e) / 2", "as": "m"}],
     "layer": [
      {"mark": {"type": "rect", "stroke": "#555555", "strokeWidth": 1},
       "encoding": {
        "x": {"field": "s", "type": "quantitative", "scale": {"domain": [521, 252], "nice": false, "zero": false, "clamp": true},
         "axis": {"orient": "bottom", "values": [520,515,510,505,500,495,490,485,480,475,470,465,460,455,450,445,440,435,430,425,420,415,410,405,400,395,390,385,380,375,370,365,360,355,350,345,340,335,330,325,320,315,310,305,300,295,290,285,280,275,270,265,260,255],
          "domain": false, "labels": false, "tickWidth": 2, "tickSize": 6,
          "title": "A", "titleX": -83, "titleY": 9, "titleAngle": 0, "titleAlign": "center", "titleBaseline": "middle", "titleFont": "Liberation Sans", "titleFontSize": 34, "titleFontWeight": "bold"}},
        "x2": {"field": "e"},
        "color": {"field": "p", "type": "nominal", "scale": {"domain": ["Cm","O","S","D","C","P"], "range": ["#95AE6A","#00A189","#BFE4C4","#D69E46","#7AB5A9","#F55A38"]}, "legend": null}
       }},
      {"mark": {"type": "text", "font": "Liberation Sans", "fontWeight": "bold", "fontSize": 28, "baseline": "middle", "color": "black"},
       "encoding": {"x": {"field": "m", "type": "quantitative"}, "text": {"field": "p"}}}
     ]
    }
   ]
  },
  {
   "spacing": 22,
   "bounds": "flush",
   "resolve": {"scale": {"color": "independent", "size": "independent"}},
   "vconcat": [
    {
     "width": 690, "height": 452,
     "layer": [
      {"data": {"name": "orders"},
       "mark": {"type": "area", "color": "#dedede", "interpolate": "step-after"},
       "encoding": {
        "x": {"field": "t", "type": "quantitative", "scale": {"domain": [538.8, 251.9], "nice": false, "zero": false},
         "axis": {"orient": "bottom", "offset": 60, "values": [500, 450, 400, 350, 300], "format": "d",
          "domain": false, "ticks": true, "tickOpacity": 0, "tickSize": 6, "labels": true, "labelOverlap": false,
          "labelPadding": 31, "labelBaseline": "top", "labelFont": "DejaVu Sans", "labelFontWeight": "bold", "labelFontSize": 24,
          "title": "B", "titleX": -83, "titleY": 7, "titleAngle": 0, "titleAlign": "center", "titleBaseline": "middle", "titleFont": "Liberation Sans", "titleFontSize": 34, "titleFontWeight": "bold"}},
        "y": {"field": "o", "type": "quantitative", "scale": {"domain": [0, 11], "nice": false},
         "axis": {"orient": "right", "offset": 29, "values": [0,1,2,3,4,5,6,7,8,9,10,11], "tickSize": 11, "labelPadding": 26,
          "domainWidth": 2.5, "tickWidth": 2.5, "labelFont": "DejaVu Sans", "labelFontWeight": "bold", "labelFontSize": 22,
          "title": "Trilobite Orders (     )", "titleFont": "Liberation Sans", "titleFontWeight": "bold", "titleFontSize": 30,
          "titleX": 89, "titleY": 225, "titleAngle": 90, "titleAlign": "center", "titleBaseline": "middle"}}
       }},
      {
       "data": {"name": "genera"},
       "mark": {"type": "point", "filled": true, "opacity": 1, "strokeWidth": 0},
       "encoding": {
        "x": {"field": "t", "type": "quantitative"},
        "y": {"field": "n", "type": "quantitative", "scale": {"type": "log", "domain": [1, 200], "nice": false},
         "axis": {"orient": "left", "offset": 27, "values": [1,2,3,4,5,6,7,8,9,10,20,30,40,50,60,70,80,90,100,200],
          "labelExpr": "indexof([1,5,10,50,100], datum.value) >= 0 ? '' + datum.value : ''",
          "tickSize": 9, "labelPadding": 29, "domainWidth": 2.5, "tickWidth": 2.5, "labelOverlap": false,
          "labelFont": "DejaVu Sans", "labelFontWeight": "bold", "labelFontSize": 22,
          "title": "Trilobite Genera (◯)", "titleFont": "Liberation Sans", "titleFontWeight": "bold", "titleFontSize": 30,
          "titleX": -86, "titleY": 228, "titleAngle": 270, "titleAlign": "center", "titleBaseline": "middle"}},
        "color": {"field": "g", "type": "nominal", "scale": {"domain": ["Trilobita","Proetida","Proetoidea"], "range": ["#000000","#AF5AFF","#F0A800"]},
         "legend": {"orient": "none", "legendX": 447, "legendY": -1, "title": null, "labelExpr": "': ' + datum.label", "labelFont": "Liberation Sans", "labelFontWeight": "bold", "labelFontSize": 26, "labelColor": "black", "rowPadding": 2.5, "labelOffset": 11, "symbolType": "circle", "symbolSize": 150, "symbolStrokeWidth": 0}},
        "size": {"field": "g", "type": "nominal", "scale": {"domain": ["Trilobita","Proetida","Proetoidea"], "range": [190, 113, 70]}, "legend": null}
       }
      }
     ],
     "resolve": {"scale": {"y": "independent"}}
    },
    {
     "width": 690, "height": 38,
     "view": {"stroke": "black", "strokeWidth": 3},
     "data": {"name": "periods"},
     "transform": [{"calculate": "(datum.s + datum.e) / 2", "as": "m"}],
     "layer": [
      {"mark": {"type": "rect", "stroke": "#555555", "strokeWidth": 1},
       "encoding": {
        "x": {"field": "s", "type": "quantitative", "scale": {"domain": [538.8, 251.9], "nice": false, "zero": false},
         "axis": {"orient": "bottom", "values": [535,530,525,520,515,510,505,500,495,490,485,480,475,470,465,460,455,450,445,440,435,430,425,420,415,410,405,400,395,390,385,380,375,370,365,360,355,350,345,340,335,330,325,320,315,310,305,300,295,290,285,280,275,270,265,260,255],
          "domain": false, "tickWidth": 2, "tickSize": 6, "labels": false,
          "title": "Ma", "titleFont": "Liberation Sans", "titleFontWeight": "bold", "titleFontSize": 32,
          "titleX": 345, "titleY": 84, "titleAlign": "center", "titleBaseline": "middle"}},
        "x2": {"field": "e"},
        "color": {"field": "p", "type": "nominal", "scale": {"domain": ["Cm","O","S","D","C","P"], "range": ["#95AE6A","#00A189","#BFE4C4","#D69E46","#7AB5A9","#F55A38"]}, "legend": null}
       }},
      {"mark": {"type": "text", "font": "Liberation Sans", "fontWeight": "bold", "fontSize": 28, "baseline": "middle", "color": "black"},
       "encoding": {"x": {"field": "m", "type": "quantitative"}, "text": {"field": "p"}}}
     ]
    }
   ]
  }
 ]
}
